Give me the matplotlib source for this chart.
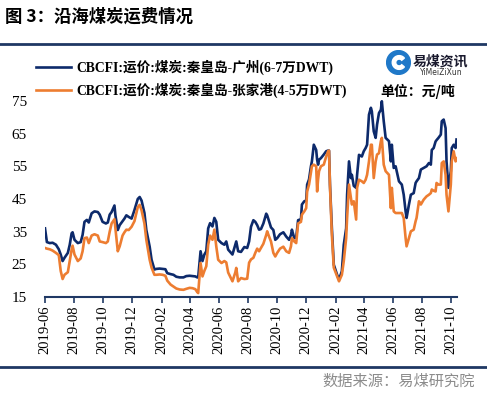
import matplotlib

matplotlib.use("Agg")
import matplotlib.pyplot as plt
import matplotlib.dates as mdates
from matplotlib.lines import Line2D
from matplotlib.patches import Circle, Wedge
import pandas as pd

# CBCFI coastal coal freight, yuan/ton
dates = [
    "2019-06-01", "2019-06-05", "2019-06-11", "2019-06-17", "2019-06-24", "2019-06-30",
    "2019-07-04", "2019-07-08", "2019-07-12", "2019-07-19", "2019-07-23", "2019-07-27", "2019-07-29",
    "2019-08-02", "2019-08-09", "2019-08-15", "2019-08-19", "2019-08-23", "2019-08-28",
    "2019-09-01", "2019-09-07", "2019-09-13", "2019-09-20", "2019-09-24", "2019-09-30",
    "2019-10-07", "2019-10-11", "2019-10-15", "2019-10-19", "2019-10-25", "2019-10-27",
    "2019-11-01", "2019-11-05", "2019-11-11", "2019-11-15", "2019-11-19", "2019-11-24", "2019-11-30",
    "2019-12-06", "2019-12-13", "2019-12-17", "2019-12-21", "2019-12-27", "2019-12-31",
    "2020-01-07", "2020-01-11", "2020-01-17", "2020-01-21", "2020-01-28",
    "2020-02-03", "2020-02-09", "2020-02-13", "2020-02-20", "2020-02-26",
    "2020-03-03", "2020-03-10", "2020-03-18", "2020-03-24", "2020-03-31",
    "2020-04-06", "2020-04-12", "2020-04-16", "2020-04-18", "2020-04-23", "2020-04-27",
    "2020-05-01", "2020-05-05", "2020-05-09", "2020-05-13", "2020-05-18", "2020-05-22", "2020-05-26", "2020-05-30",
    "2020-06-06", "2020-06-12", "2020-06-16", "2020-06-20", "2020-06-29",
    "2020-07-05", "2020-07-07", "2020-07-11", "2020-07-17", "2020-07-24", "2020-07-30",
    "2020-08-03", "2020-08-07", "2020-08-12", "2020-08-16", "2020-08-20", "2020-08-24", "2020-08-28",
    "2020-09-02", "2020-09-08", "2020-09-10", "2020-09-14", "2020-09-18", "2020-09-23", "2020-09-27",
    "2020-10-01", "2020-10-07", "2020-10-14", "2020-10-20", "2020-10-26", "2020-10-30",
    "2020-11-01", "2020-11-06", "2020-11-10", "2020-11-14", "2020-11-20", "2020-11-22", "2020-11-27",
    "2020-12-01", "2020-12-03", "2020-12-07", "2020-12-11", "2020-12-13", "2020-12-17", "2020-12-22",
    "2020-12-24", "2020-12-26", "2020-12-28",
    "2021-01-01", "2021-01-07", "2021-01-12", "2021-01-16", "2021-01-18", "2021-01-20", "2021-01-24", "2021-01-28",
    "2021-02-04", "2021-02-08", "2021-02-14", "2021-02-18", "2021-02-23", "2021-02-25",
    "2021-03-01", "2021-03-05", "2021-03-07", "2021-03-11", "2021-03-16", "2021-03-18", "2021-03-22", "2021-03-28",
    "2021-04-01", "2021-04-05", "2021-04-08", "2021-04-12", "2021-04-16", "2021-04-18", "2021-04-22",
    "2021-04-26", "2021-04-29",
    "2021-05-03", "2021-05-07", "2021-05-09", "2021-05-13", "2021-05-17", "2021-05-24", "2021-05-28", "2021-05-30",
    "2021-06-03", "2021-06-07", "2021-06-14", "2021-06-20", "2021-06-24", "2021-06-28", "2021-06-30",
    "2021-07-05", "2021-07-09", "2021-07-15", "2021-07-19", "2021-07-21", "2021-07-26", "2021-07-30",
    "2021-08-05", "2021-08-11", "2021-08-16", "2021-08-20", "2021-08-22", "2021-08-26", "2021-08-30",
    "2021-09-01", "2021-09-05", "2021-09-10", "2021-09-12", "2021-09-16", "2021-09-20", "2021-09-22", "2021-09-26",
    "2021-10-01", "2021-10-03", "2021-10-07", "2021-10-11", "2021-10-13",
]

qhd_guangzhou = [
    36.0, 31.8, 31.5, 31.6, 31.0, 29.6,
    28.0, 26.0, 27.0, 28.5, 31.0, 34.5, 34.8,
    32.5, 31.5, 31.8, 34.0, 38.0, 38.6,
    37.8, 40.6, 41.2, 41.0, 40.2, 38.0,
    37.5, 37.8, 40.2, 41.0, 43.0, 40.0,
    35.5, 37.0, 38.2, 39.0, 40.0, 39.5, 39.0,
    41.6, 45.0, 45.6, 44.5, 40.7, 35.5,
    30.4, 26.4, 23.4, 23.6, 23.7,
    23.6, 23.5, 22.3, 22.0, 21.8,
    21.2, 21.0, 21.0, 21.4, 21.5,
    21.4, 21.3, 21.0, 21.0, 29.0, 26.0,
    28.0, 29.0, 36.0, 37.6, 36.6, 39.2, 38.0, 32.5,
    31.5, 31.0, 32.0, 29.5, 28.0,
    31.0, 32.0, 29.0, 28.8, 30.3, 30.0,
    32.0, 36.5, 38.5, 38.0, 37.0, 35.6, 35.8,
    37.5, 40.5, 40.0, 38.2, 36.3, 35.5, 32.5,
    33.0, 34.2, 34.8, 33.5, 32.5, 34.0,
    35.6, 33.0, 33.2, 38.5, 38.8, 43.3, 44.3,
    44.5, 49.4, 51.0, 55.0, 56.5, 61.6, 60.0, 57.0, 55.5, 57.0,
    57.5, 58.6, 59.6, 59.8, 59.8, 49.4, 36.0, 24.9,
    21.8, 20.3, 22.9, 31.0, 36.0, 46.3,
    56.5, 51.4, 52.4, 49.0, 48.4, 52.4, 58.5, 58.0,
    59.6, 60.6, 61.6, 70.8, 72.9, 71.8, 65.7, 63.7, 67.8,
    71.3, 72.3, 74.9, 68.8, 63.7, 62.7, 56.5, 61.6,
    54.5, 55.0, 50.4, 49.4, 46.3, 41.2, 39.2,
    43.3, 46.3, 46.8, 49.9, 50.4, 51.4, 54.0,
    54.5, 55.0, 56.0, 55.5, 60.0, 60.6, 62.6,
    63.0, 63.7, 64.7, 68.8, 69.3, 66.7, 56.5, 48.4,
    53.5, 60.6, 61.6, 60.6, 63.2,
]

qhd_zhangjiagang = [
    30.0, 29.8, 29.6, 29.2, 28.5, 27.8,
    23.0, 20.5, 21.8, 22.6, 26.0, 29.5, 30.7,
    28.0, 26.0, 26.8, 29.0, 33.0, 33.2,
    31.5, 33.8, 34.2, 33.8, 32.0, 31.8,
    31.5, 32.0, 35.0, 37.5, 38.8, 36.0,
    29.0, 30.5, 33.8, 34.8, 35.6, 35.5, 36.5,
    38.2, 42.5, 43.2, 41.5, 37.5, 32.5,
    26.4, 24.0, 21.8, 21.8, 21.9,
    21.8, 21.5, 20.0, 18.8, 18.2,
    17.6, 17.3, 17.2, 17.5, 17.8,
    17.7, 17.4, 16.5, 16.2, 25.4, 21.3,
    23.0, 24.4, 31.0, 33.8, 32.5, 35.6, 30.5, 26.4,
    25.4, 26.0, 25.6, 22.5, 19.8,
    22.5, 23.9, 19.8, 20.8, 20.5, 20.6,
    25.5, 26.5, 27.0, 28.5, 29.8, 29.0, 30.0,
    31.3, 34.0, 35.1, 33.5, 32.0, 28.5, 27.4,
    28.5, 29.8, 30.4, 29.0, 28.5, 30.5,
    33.0, 32.0, 31.5, 37.5, 38.0, 40.2, 41.2,
    42.2, 47.3, 49.4, 53.0, 55.0, 55.5, 55.0, 47.3, 51.0, 53.5,
    55.0, 55.5, 58.0, 59.6, 59.8, 49.0, 34.0, 24.0,
    21.3, 19.8, 21.8, 26.0, 33.0, 39.2,
    49.4, 45.3, 43.3, 44.3, 38.7, 48.4, 50.9, 50.4,
    49.9, 50.9, 52.4, 56.5, 61.6, 61.6, 51.4, 56.5, 58.6,
    59.0, 62.7, 63.7, 55.5, 53.5, 52.4, 42.2, 48.4,
    41.2, 40.7, 40.7, 40.7, 39.2, 33.0, 30.5,
    33.0, 35.1, 35.6, 38.2, 39.2, 44.3, 43.3,
    44.8, 45.8, 46.3, 46.8, 47.9, 47.5, 47.3,
    49.9, 49.4, 49.4, 56.0, 56.5, 52.4, 46.3, 41.2,
    49.4, 56.5, 59.6, 56.5, 57.5,
]

series_labels = [
    "CBCFI:运价:煤炭:秦皇岛-广州(6-7万DWT)",
    "CBCFI:运价:煤炭:秦皇岛-张家港(4-5万DWT)",
]
y_ticks = [15, 25, 35, 45, 55, 65, 75]

assert len(dates) == len(qhd_guangzhou) == len(qhd_zhangjiagang)

NAVY = "#0D2A6B"
ORANGE = "#ED7D31"
RULE = "#1F3864"
CJK = "Noto Sans CJK SC"
MIXED = ["Liberation Serif", CJK]

x = pd.to_datetime(dates)

fig = plt.figure(figsize=(4.87, 3.94), dpi=100)
ax = fig.add_axes([45 / 487, 1 - 297 / 394, 412 / 487, (297 - 84.6) / 394])

l1, = ax.plot(x, qhd_guangzhou, color=NAVY, lw=1.9, label=series_labels[0])
l2, = ax.plot(x, qhd_zhangjiagang, color=ORANGE, lw=1.9, label=series_labels[1])

ax.set_xlim(x[0], x[-1] + pd.Timedelta(days=1))
ax.set_ylim(15, 80)
ax.set_yticks(y_ticks)
ax.xaxis.set_major_locator(mdates.MonthLocator(bymonth=[2, 4, 6, 8, 10, 12]))
ax.xaxis.set_major_formatter(mdates.DateFormatter("%Y-%m"))

for side in ("top", "right", "left"):
    ax.spines[side].set_visible(False)
ax.spines["bottom"].set_color(RULE)
ax.spines["bottom"].set_linewidth(1.5)
ax.tick_params(axis="y", length=0, pad=13, labelsize=11)
ax.tick_params(axis="x", length=4, width=1.2, color=RULE, direction="out",
               labelsize=10.5, labelrotation=90, pad=2)
for lab in ax.get_xticklabels() + ax.get_yticklabels():
    lab.set_fontfamily("Liberation Serif")

# legend at top-left
fig.legend(handles=[l1, l2], loc="upper left", bbox_to_anchor=(36 / 487, 1 - 60 / 394),
           frameon=False, borderpad=0, borderaxespad=0, handlelength=2.6,
           handletextpad=0.35, labelspacing=0.55,
           prop={"family": MIXED, "weight": "bold", "size": 9.8})

# title and rules
fig.text(5 / 487, 1 - 17 / 394, "图 3：沿海煤炭运费情况", family=CJK, weight="bold",
         fontsize=12.5, ha="left", va="center")
fig.add_artist(Line2D([0, 1], [1 - 43.5 / 394] * 2, color=RULE, lw=2))
fig.add_artist(Line2D([0, 1], [1 - 367 / 394] * 2, color=RULE, lw=2))
fig.text(475 / 487, 1 - 381 / 394, "数据来源：易煤研究院", family=CJK, fontsize=11,
         color="#8C8C8C", ha="right", va="center")

# logo + unit
lax = fig.add_axes([386 / 487, 1 - 75 / 394, 25 / 487, 25 / 394])
lax.set_xlim(-1, 1)
lax.set_ylim(-1, 1)
lax.set_aspect("equal")
lax.axis("off")
lax.add_patch(Circle((0, 0), 0.95, color="#1F78C8"))
lax.add_patch(Wedge((0.05, 0), 0.55, 40, 320, width=0.28, color="white"))
fig.text(440 / 487, 1 - 61 / 394, "易煤资讯", family=CJK, weight="bold", fontsize=10,
         color="#1A1A2E", ha="center", va="center")
fig.text(441 / 487, 1 - 72.5 / 394, "YiMeiZiXun", fontsize=5.5, color="#333333",
         ha="center", va="center")
fig.text(418 / 487, 1 - 91 / 394, "单位：元/吨", family=CJK, weight="bold", fontsize=10,
         ha="center", va="center")

fig.savefig("out.png", dpi=100)
